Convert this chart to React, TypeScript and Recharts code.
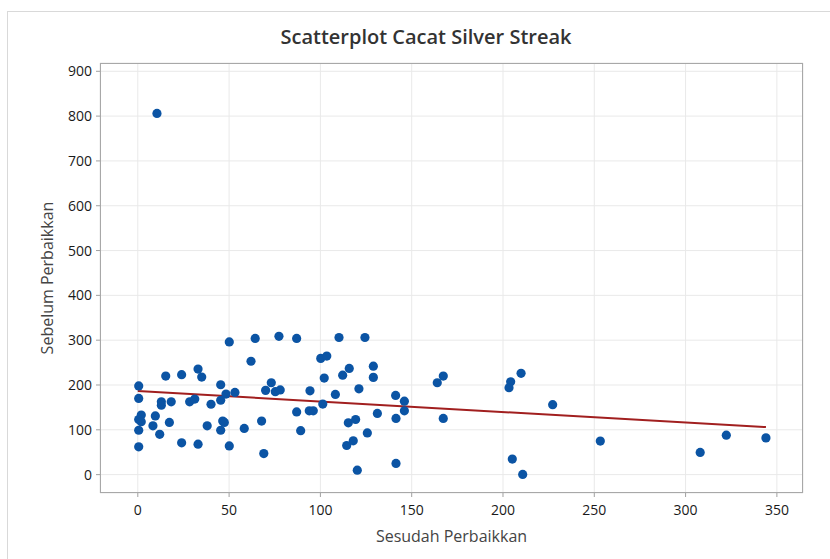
import React from 'react';
import { ScatterChart, Scatter, XAxis, YAxis, CartesianGrid } from 'recharts';

// Sesudah Perbaikkan (x) values
const sesudah: number[] = [
  0.5, 0.5, 1.9, 0.5, 1.9, 0.5, 0.5,
  9.6, 8.3, 12, 12.9, 12.9, 18.3, 17.3, 15.3, 10.5,
  24, 24,
  28.4, 31.2, 33, 35, 33,
  38, 40.1, 45.4, 48.3, 53.2, 45.4, 46.5, 47.4, 45.4, 50.1, 50.1,
  58.3, 62, 64.3, 67.8, 69, 70, 73.1, 75.3, 78, 77.3,
  87, 87, 89.2, 93.9, 96.1, 94.3, 100.2, 103.5, 102.1, 101.3,
  108.2, 110.2, 112.2, 115.8, 115.3, 119.3, 114.4, 118, 120.2, 121.1, 124.4, 125.7, 129, 129, 131.2,
  141.2, 141.4, 141.4, 146, 146, 164, 167.3, 167.3,
  209.9, 204.2, 203.3, 227.2, 205.1, 210.8,
  253.3, 308, 322.3, 344,
];

// Sebelum Perbaikkan (y) values
const sebelum: number[] = [
  198, 170, 133, 123, 118, 99, 62,
  131, 109, 90, 162.5, 155, 162.5, 116.5, 220, 806,
  223, 71,
  162.5, 168.5, 235.5, 217.6, 68,
  109, 157, 200.5, 179.7, 183.5, 166, 119.4, 116.5, 99, 296, 64,
  103, 253, 304, 119.4, 47, 188, 205, 185, 189, 308.5,
  304, 140, 98, 142.4, 142.4, 187, 259.4, 264.5, 215.4, 157.4,
  179, 306, 222, 237, 115.6, 123, 65, 75.4, 10, 191.5, 306, 93, 242, 217, 136.6,
  176.8, 125.4, 25, 164, 142.4, 205, 220, 125.4,
  226, 207, 194, 156, 34.6, 0.4,
  74.8, 49.5, 88, 82,
];

// Fitted regression line endpoints
const fitX: number[] = [0, 344];
const fitY: number[] = [186.4, 106];

const xTicks: number[] = [0, 50, 100, 150, 200, 250, 300, 350];
const yTicks: number[] = [0, 100, 200, 300, 400, 500, 600, 700, 800, 900];

const points = sesudah.map((x, i) => ({ x, y: sebelum[i] }));
const fitLine = fitX.map((x, i) => ({ x, y: fitY[i] }));

const FONT = '"Open Sans", "Noto Sans", sans-serif';
const DOT = '#0B54A4';
const LINE = '#A11F1F';

const Dot = (props: any) => {
  const { cx, cy } = props;
  if (cx == null || cy == null) return <g />;
  return <circle cx={cx} cy={cy} r={4.6} fill={DOT} />;
};

export default function App() {
  return (
    <div style={{ position: 'fixed', left: 0, top: 0, width: 830, height: 559, background: '#fff', overflow: 'hidden', fontFamily: FONT }}>
      <div style={{ position: 'absolute', left: 7, top: 11, width: 900, height: 700, borderLeft: '1px solid #d9d9d9', borderTop: '1px solid #d9d9d9' }} />
      <div style={{ position: 'absolute', left: 0, top: 0 }}>
        <ScatterChart width={830} height={559} margin={{ top: 63, right: 27, bottom: 0, left: 0 }}>
          <CartesianGrid stroke="#e9e9e9" strokeWidth={1} />
          <XAxis
            type="number"
            dataKey="x"
            domain={[-20.7, 364.3]}
            ticks={xTicks}
            allowDataOverflow
            height={66}
            axisLine={false}
            tickLine={{ stroke: '#a0a0a0' }}
            tickSize={4}
            tickMargin={8}
            tick={{ fill: '#1a1a1a', fontSize: 14, fontWeight: 500, fontFamily: FONT }}
          />
          <YAxis
            type="number"
            dataKey="y"
            domain={[-41, 918.5]}
            ticks={yTicks}
            allowDataOverflow
            width={100}
            axisLine={false}
            tickLine={{ stroke: '#a0a0a0' }}
            tickSize={4}
            tickMargin={4}
            tick={{ fill: '#1a1a1a', fontSize: 14, fontWeight: 500, fontFamily: FONT }}
          />
          <Scatter data={fitLine} line={{ stroke: LINE, strokeWidth: 2 }} shape={() => <g />} isAnimationActive={false} />
          <Scatter data={points} shape={Dot} isAnimationActive={false} />
        </ScatterChart>
      </div>
      <div style={{ position: 'absolute', left: 100, top: 63, width: 703, height: 430, border: '1px solid #a8a8a8', boxSizing: 'border-box', pointerEvents: 'none' }} />
      <div style={{ position: 'absolute', left: 0, width: 852, top: 23, textAlign: 'center', fontSize: 20, fontWeight: 600, color: '#333', whiteSpace: 'nowrap' }}>
        Scatterplot Cacat Silver Streak
      </div>
      <div style={{ position: 'absolute', left: 100, width: 703, top: 525, textAlign: 'center', fontSize: 16, fontWeight: 500, color: '#444', whiteSpace: 'nowrap' }}>
        Sesudah Perbaikkan
      </div>
      <div style={{ position: 'absolute', left: 47, top: 279, width: 0, height: 0 }}>
        <div style={{ position: 'absolute', left: -100, top: -12, width: 200, textAlign: 'center', fontSize: 16, fontWeight: 500, color: '#444', whiteSpace: 'nowrap', transform: 'rotate(-90deg)' }}>
          Sebelum Perbaikkan
        </div>
      </div>
    </div>
  );
}
